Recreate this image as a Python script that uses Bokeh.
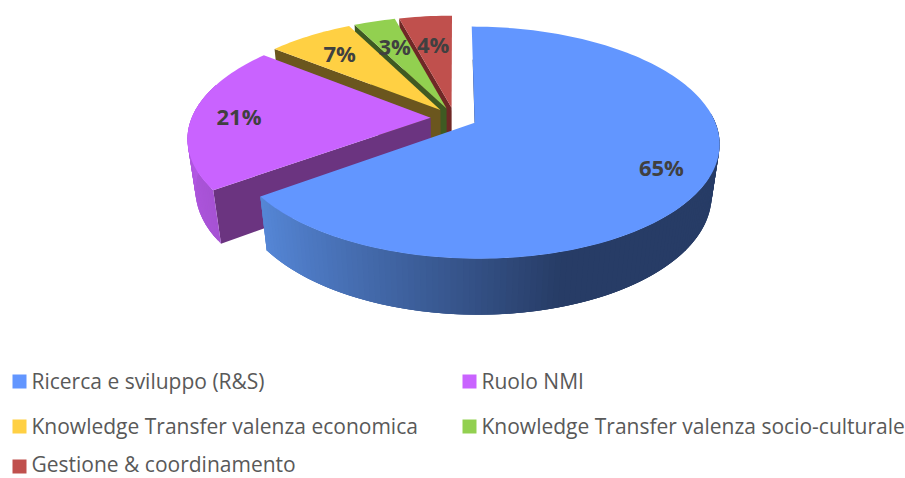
import math
from bokeh.plotting import figure
from bokeh.models import Range1d
from bokeh.core.properties import value
from bokeh.embed import file_html
from bokeh.resources import INLINE

categories = ["Ricerca e sviluppo (R&S)", "Ruolo NMI", "Knowledge Transfer valenza economica",
              "Knowledge Transfer valenza socio-culturale", "Gestione & coordinamento"]
shares = [65.0, 20.7, 6.8, 3.3, 4.2]
labels = ["65%", "21%", "7%", "3%", "4%"]

top_colors = ["#6296FF", "#C963FF", "#FFD043", "#92D050", "#C0504D"]
wall_colors = ["#273C66", "#6B3480", "#6B561E", "#3F5A22", "#6F2826"]
label_radius = [0.81, 0.805, 0.75, 0.69, 0.67]
explode = [0.094, 0.100, 0.094, 0.094, 0.094]

W, H = 905, 478
CX, CY = 454, 117.5
A, B, DEPTH = 239, 111, 52
K, M = 0.17, 0.03

p = figure(width=W, height=H, output_backend="svg", toolbar_location=None,
           x_range=Range1d(0, W), y_range=Range1d(H, 0), min_border=0,
           outline_line_color=None)
p.xaxis.visible = False
p.yaxis.visible = False
p.grid.visible = False
p.background_fill_color = "white"
p.border_fill_color = "white"


def proj(X, Z, D=0.0):
    w = 1 - K * Z + M * D
    return CX + A * X / w, CY + (B * Z + DEPTH * D) / w


def point(r, th, mid, e, D=0.0):
    X = e * math.sin(mid) + r * math.sin(th)
    Z = -e * math.cos(mid) - r * math.cos(th)
    return proj(X, Z, D)


def mix(c1, c2, t):
    t = max(0.0, min(1.0, t))
    a = [int(c1[i:i + 2], 16) for i in (1, 3, 5)]
    b = [int(c2[i:i + 2], 16) for i in (1, 3, 5)]
    return "#%02x%02x%02x" % tuple(round(x + (y - x) * t) for x, y in zip(a, b))


def rim_strips(t0, t1, mid, e, shade, n=120):
    """Overlapping strips: each is painted over its neighbour so no seam shows."""
    xs, ys, cs = [], [], []
    d = (t1 - t0) / n
    for i in range(n):
        a = t0 + d * i
        b = min(t1, a + d * 3)
        pts = [point(1, a, mid, e), point(1, b, mid, e), point(1, b, mid, e, 1), point(1, a, mid, e, 1)]
        xs.append([q[0] for q in pts])
        ys.append([q[1] for q in pts])
        m = t0 + d * (i + 0.5)
        cs.append(shade(math.sin(m), math.cos(m)))
    return xs, ys, cs


def blue_shade(sx, cx):
    return mix("#5586D6", "#273C66", (sx + 0.81) / 1.1)


def purple_shade(sx, cx):
    return mix("#A652D4", "#C260F5", (cx + 0.59) / 1.2)


# angular extents of the slices, clockwise from 12 o'clock
total = sum(shares)
edges = [0.0]
for s in shares:
    edges.append(edges[-1] + 2 * math.pi * s / total)
mids = [(edges[i] + edges[i + 1]) / 2 for i in range(len(shares))]

# back to front
for i in [4, 3, 2, 1, 0]:
    t0, t1, mid, e = edges[i], edges[i + 1], mids[i], explode[i]
    if i == 0:
        a = point(0, t0, mid, e)
        b = point(0.62, t0, mid, e)
        p.line([a[0] + 0.4, b[0] + 0.4], [a[1], b[1]], line_color=wall_colors[0], line_width=1)
    else:
        wall = [point(0, t0, mid, e), point(1, t0, mid, e), point(1, t0, mid, e, 1), point(0, t0, mid, e, 1)]
        p.patch([q[0] for q in wall], [q[1] for q in wall],
                fill_color=wall_colors[i], line_color=None)
    if i == 0:
        xs, ys, cs = rim_strips(math.radians(85), t1, mid, e, blue_shade)
        p.patches(xs, ys, fill_color=cs, line_color=None)
    elif i == 1:
        xs, ys, cs = rim_strips(t0, math.radians(288), mid, e, purple_shade, 40)
        p.patches(xs, ys, fill_color=cs, line_color=None)
    n = max(8, int((t1 - t0) * 40))
    top = [point(0, t0, mid, e)] + [point(1, t0 + (t1 - t0) * j / n, mid, e) for j in range(n + 1)]
    p.patch([q[0] for q in top], [q[1] for q in top], fill_color=top_colors[i], line_color=None)

# value labels
for i in range(len(shares)):
    x, y = point(label_radius[i], mids[i], mids[i], explode[i])
    p.text([x], [y], text=[labels[i]], text_font=value("Open Sans"), text_font_style="bold",
           text_font_size="22px", text_color="#404040", text_align="center", text_baseline="middle")

# legend
col_x = [12, 462]
row_y = [380, 425, 463]
marker_y = [381, 426, 466]
slots = [(0, 0), (1, 0), (0, 1), (1, 1), (0, 2)]
for i, (c, r) in enumerate(slots):
    p.rect([col_x[c] + 7], [marker_y[r]], width=14, height=14,
           fill_color=top_colors[i], line_color=None)
    p.text([col_x[c] + 19], [row_y[r]], text=[categories[i]], text_font=value("Open Sans"),
           text_font_size="21px", text_color="#595959", text_align="left", text_baseline="middle")

open("out.html", "w").write(file_html(p, INLINE))
